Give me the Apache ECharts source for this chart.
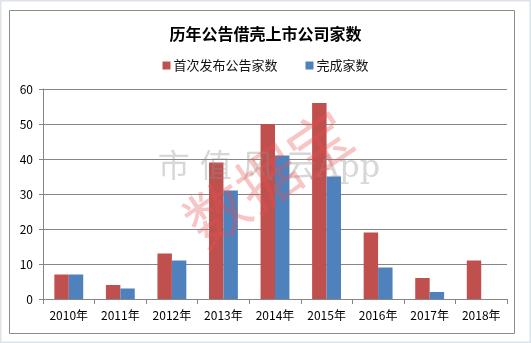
<!DOCTYPE html>
<html>
<head>
<meta charset="utf-8">
<script src="https://cdn.jsdelivr.net/npm/echarts@6/dist/echarts.min.js"></script>
<style>
    html, body { margin: 0; padding: 0; background: #fff; }
    #chart { width: 531px; height: 343px; }
</style>
</head>
<body>
<div id="chart"></div>
<script>
'use strict';
var years = ['2010年', '2011年', '2012年', '2013年', '2014年', '2015年', '2016年', '2017年', '2018年'];
var announced = [7, 4, 13, 39, 50, 56, 19, 6, 11];
var completed = [7, 3, 11, 31, 41, 35, 9, 2, 0];
var seriesNames = ['首次发布公告家数', '完成家数'];

var chart = echarts.init(document.getElementById('chart'));
var font = '"Noto Sans CJK SC", "DejaVu Sans", sans-serif';

chart.setOption({
    animation: false,
    textStyle: { fontFamily: font },
    title: {
        text: '历年公告借壳上市公司家数',
        left: 'center',
        top: 21,
        textStyle: { fontSize: 16, fontWeight: 'bold', color: '#000', fontFamily: font }
    },
    legend: {
        data: seriesNames,
        top: 54,
        left: 'center',
        itemWidth: 8,
        itemHeight: 8,
        itemGap: 28,
        icon: 'rect',
        textStyle: { fontSize: 13, color: '#111', padding: [0, 0, 0, -2] }
    },
    // 外框 + 水印
    graphic: [
        {
            type: 'rect',
            shape: { x: 9.5, y: 10.5, width: 505, height: 323 },
            style: { fill: 'none', stroke: '#8c8c8c', lineWidth: 1 },
            z: -1
        },
        {
            type: 'rect',
            shape: { x: 0.5, y: 0.5, width: 530, height: 342 },
            style: { fill: 'none', stroke: '#dde3ea', lineWidth: 2 },
            z: -1
        },
        {
            type: 'text',
            x: 269, y: 169,
            style: {
                text: '市 值 风 云App', fontSize: 32, fill: 'rgba(140,140,140,0.35)',
                fontFamily: '"DejaVu Serif", "Noto Sans CJK SC", serif',
                textAlign: 'center', textVerticalAlign: 'middle'
            },
            z: 100
        },
        {
            type: 'text',
            x: 268, y: 178,
            rotation: 0.6,
            style: {
                text: '数据宝', fontSize: 62, fill: 'rgba(235,80,80,0.33)', fontFamily: font,
                textAlign: 'center', textVerticalAlign: 'middle'
            },
            z: 101
        }
    ],
    grid: {
        left: 43,
        right: 24,
        top: 89,
        bottom: 44
    },
    xAxis: {
        type: 'category',
        data: years,
        axisLine: { lineStyle: { color: '#868686' } },
        axisTick: { show: true, length: 5, lineStyle: { color: '#868686' } },
        axisLabel: { color: '#000', fontSize: 12, margin: 10 }
    },
    yAxis: {
        type: 'value',
        min: 0,
        max: 60,
        interval: 10,
        axisLine: { show: true, lineStyle: { color: '#868686' } },
        axisTick: { show: true, length: 4, lineStyle: { color: '#868686' } },
        axisLabel: { color: '#000', fontSize: 12, margin: 10 },
        splitLine: { lineStyle: { color: '#868686' } }
    },
    series: [
        {
            name: seriesNames[0],
            type: 'bar',
            data: announced,
            barGap: '0%',
            barCategoryGap: '44%',
            itemStyle: { color: '#C0504D' }
        },
        {
            name: seriesNames[1],
            type: 'bar',
            data: completed,
            barGap: '0%',
            barCategoryGap: '44%',
            itemStyle: { color: '#4F81BD' }
        }
    ]
});
</script>
</body>
</html>
